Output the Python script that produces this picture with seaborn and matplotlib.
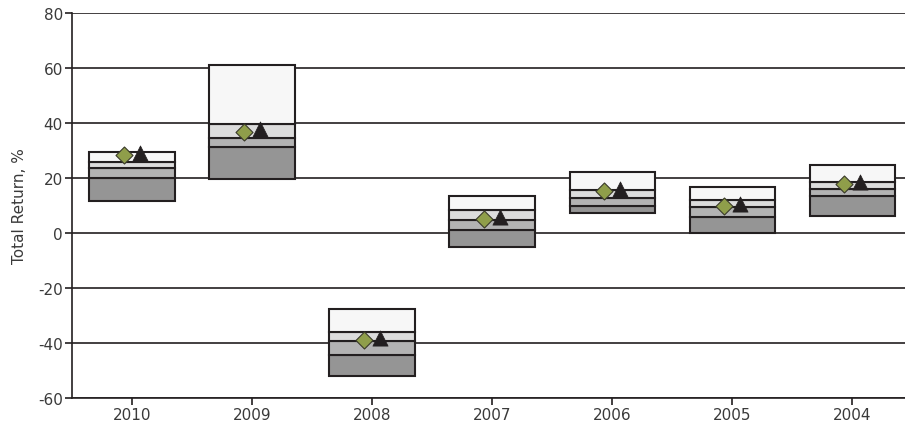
import numpy as np
import pandas as pd
import matplotlib
matplotlib.use("Agg")
import matplotlib.pyplot as plt
import seaborn as sns

# ---------------------------------------------------------------------------
# Data
# ---------------------------------------------------------------------------
years = ["2010", "2009", "2008", "2007", "2006", "2005", "2004"]
p05 = [11.7, 19.6, -52.1, -5.0, 7.3, 0.0, 6.3]
p25 = [20.0, 31.4, -44.3, 1.2, 9.7, 5.9, 13.5]
p50 = [23.6, 34.7, -39.2, 4.8, 12.6, 9.3, 16.0]
p75 = [25.9, 39.6, -35.9, 8.4, 15.6, 12.0, 18.4]
p95 = [29.6, 61.1, -27.6, 13.6, 22.1, 16.8, 24.8]
diamond = [28.4, 36.7, -38.8, 5.1, 15.3, 9.9, 17.8]
triangle = [29.2, 37.8, -38.3, 5.8, 16.0, 10.6, 18.5]

yticks = [-60, -40, -20, 0, 20, 40, 60, 80]

df = pd.DataFrame({"year": years, "p05": p05, "p25": p25, "p50": p50,
                   "p75": p75, "p95": p95,
                   "diamond": diamond, "triangle": triangle})

# ---------------------------------------------------------------------------
# Plot
# ---------------------------------------------------------------------------
sns.set_style("white")
plt.rcParams["font.family"] = ["DejaVu Sans"]

fig = plt.figure(figsize=(9.05, 4.27), dpi=100)
ax = fig.add_axes([72 / 905, 1 - 399 / 427, (905 - 72) / 905, 385 / 427])

edge = "#231f20"
xpos = np.arange(len(years))
width = 0.71

bands = [("p05", "p25", "#959595"),
         ("p25", "p50", "#b3b3b3"),
         ("p50", "p75", "#dcdcdc"),
         ("p75", "p95", "#f7f7f7")]
for lo, hi, col in bands:
    ax.bar(xpos, df[hi] - df[lo], bottom=df[lo], width=width,
           color=col, edgecolor=edge, linewidth=1.5, zorder=2)

off = 0.067
sns.scatterplot(x=xpos - off, y=df["diamond"], marker="D", s=75,
                color="#8f9e4a", edgecolor="#3a3a2a", linewidth=0.8,
                ax=ax, zorder=4, legend=False)
sns.scatterplot(x=xpos + off, y=df["triangle"], marker="^", s=120,
                color=edge, edgecolor=edge, linewidth=0.5,
                ax=ax, zorder=4, legend=False)

for v in yticks:
    ax.axhline(v, color=edge, linewidth=1.2, zorder=1)

ax.set_xlim(-0.5, 6.44)
ax.set_ylim(-60, 80)
ax.set_yticks(yticks)
ax.set_yticklabels([str(v) for v in yticks])
ax.set_xticks(xpos)
ax.set_xticklabels(years)
ax.tick_params(axis="both", direction="out", length=5, width=1.2,
               color=edge, labelsize=11, labelcolor="#3a3a3a", pad=1.5,
               left=True, bottom=True)
ax.set_xlabel(None)
ax.set_ylabel("Total Return, %", fontsize=11, color="#3a3a3a", labelpad=8)

for side in ["top", "right"]:
    ax.spines[side].set_visible(False)
for side in ["left", "bottom"]:
    ax.spines[side].set_color(edge)
    ax.spines[side].set_linewidth(1.2)

fig.savefig("out.png", dpi=100)
